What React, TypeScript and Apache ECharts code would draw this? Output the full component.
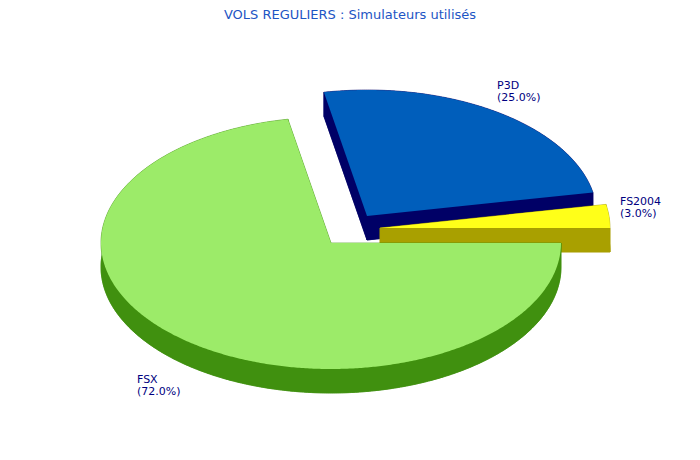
import React, { useEffect, useRef } from "react";
import * as echarts from "echarts";

const TITLE = "VOLS REGULIERS : Simulateurs utilisés";
const CATEGORIES = ["FSX", "P3D", "FS2004"];
const VALUES = [72, 25, 3];

const TOP_COLORS = ["#9CEB69", "#005EBB", "#FFFF19"];
const SIDE_COLORS = ["#40900F", "#000066", "#A9A000"];
const EXPLODE: number[][] = [[0, 0], [36, -27], [49, -15]];
const DRAW_ORDER = [2, 0, 1];
const LABEL_POS: number[][] = [[137, 373], [497, 79], [620, 195]];

const CX = 331, CY = 243, RX = 230, RY = 126, DEPTH = 24;

export default function App() {
  const ref = useRef<HTMLDivElement>(null);
  useEffect(() => {
    document.body.style.margin = "0";
    const chart = echarts.init(ref.current!, null, { renderer: "svg" });
    const total = VALUES.reduce((a, b) => a + b, 0);
    const renderItem = (params: any, api: any) => {
      const i = params.dataIndex;
      let start = 0;
      for (let k = 0; k < i; k++) start += VALUES[k];
      const v = api.value(1);
      const a0 = (start / total) * 2 * Math.PI;
      const a1 = ((start + v) / total) * 2 * Math.PI;
      const [ox, oy] = EXPLODE[i];
      const cx = CX + ox, cy = CY + oy;
      const arc = (dy: number) => {
        const pts: number[][] = [];
        const n = Math.max(2, Math.ceil((a1 - a0) / (Math.PI / 360)));
        for (let j = 0; j <= n; j++) {
          const t = a0 + ((a1 - a0) * j) / n;
          pts.push([cx + RX * Math.cos(t), cy + dy + RY * Math.sin(t)]);
        }
        return pts;
      };
      const arcT = arc(0);
      const arcB = arc(DEPTH);
      const topFace = [[cx, cy], ...arcT];
      const bottomFace = [[cx, cy + DEPTH], ...arcB];
      const wall = [...arcT, ...arcB.slice().reverse()];
      const f = arcT[0], l = arcT[arcT.length - 1];
      const cut0 = [[cx, cy], f, [f[0], f[1] + DEPTH], [cx, cy + DEPTH]];
      const cut1 = [[cx, cy], l, [l[0], l[1] + DEPTH], [cx, cy + DEPTH]];
      const base = DRAW_ORDER[i] * 10;
      const side = SIDE_COLORS[i];
      const sideStyle = { fill: side, stroke: side, lineWidth: 0.6 };
      const pct = ((v / total) * 100).toFixed(1);
      return {
        type: "group",
        children: [
          { type: "polygon", z2: base, shape: { points: bottomFace }, style: sideStyle },
          { type: "polygon", z2: base + 1, shape: { points: wall }, style: sideStyle },
          { type: "polygon", z2: base + 1, shape: { points: cut0 }, style: sideStyle },
          { type: "polygon", z2: base + 1, shape: { points: cut1 }, style: sideStyle },
          { type: "polygon", z2: base + 5, shape: { points: topFace }, style: { fill: TOP_COLORS[i] } },
          {
            type: "text",
            z2: 100,
            x: LABEL_POS[i][0],
            y: LABEL_POS[i][1],
            style: {
              text: CATEGORIES[i] + "\n(" + pct + "%)",
              fill: "#000080",
              font: "11px 'DejaVu Sans'",
              align: "left",
              verticalAlign: "top",
              lineHeight: 12,
            },
          },
        ],
      };
    };
    chart.setOption({
      animation: false,
      backgroundColor: "#ffffff",
      title: {
        text: TITLE,
        left: "center",
        top: 3,
        textStyle: { color: "#1D55C4", fontSize: 13, fontWeight: "normal", fontFamily: "DejaVu Sans" },
      },
      series: [
        {
          type: "custom",
          coordinateSystem: "none",
          renderItem,
          data: VALUES.map((v, i) => [i, v]),
        },
      ],
    });
    return () => chart.dispose();
  }, []);
  return <div ref={ref} style={{ width: 700, height: 460 }} />;
}
